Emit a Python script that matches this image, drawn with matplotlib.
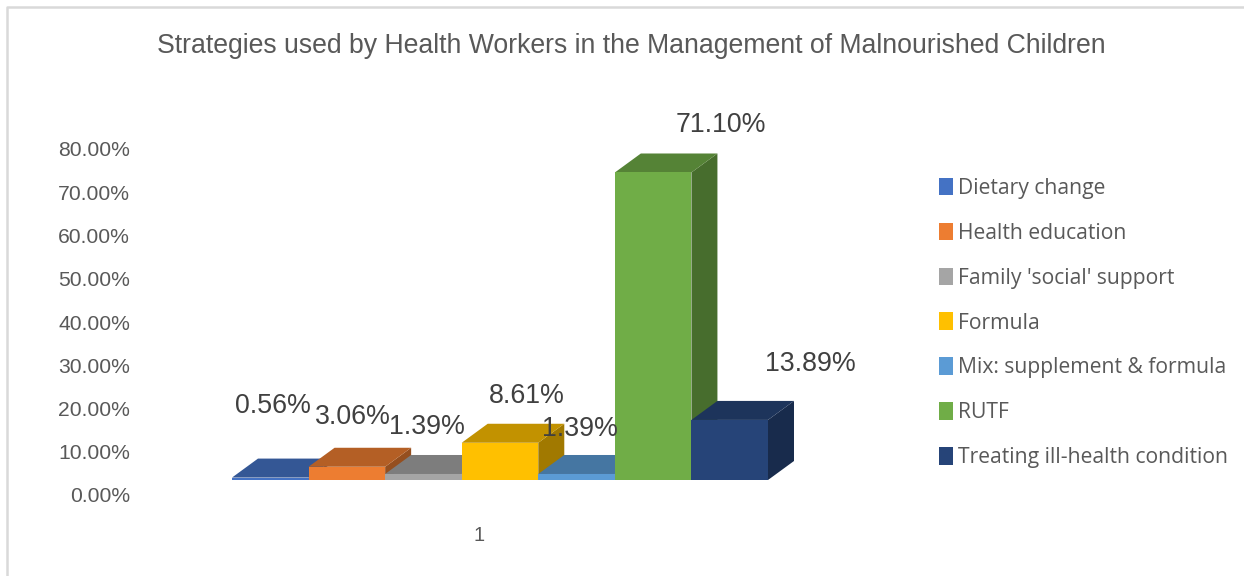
import matplotlib
matplotlib.use('Agg')
import matplotlib.pyplot as plt
import matplotlib.transforms as mtransforms
from matplotlib.colors import to_rgb
from matplotlib.lines import Line2D
from matplotlib.patches import Patch

# Data
strategies = ['Dietary change', 'Health education', "Family 'social' support", 'Formula',
              'Mix: supplement & formula', 'RUTF', 'Treating ill-health condition']
percentages = [0.56, 3.06, 1.39, 8.61, 1.39, 71.10, 13.89]
y_ticks = [0, 10, 20, 30, 40, 50, 60, 70, 80]
category_label = '1'
title = 'Strategies used by Health Workers in the Management of Malnourished Children'

colors = ['#4472C4', '#ED7D31', '#A5A5A5', '#FFC000', '#5B9BD5', '#70AD47', '#264478']

# Layout, in pixels of the 1244x576 picture
W, H = 1244, 576
PLOT_LEFT, PLOT_RIGHT = 232, 768
PLOT_BASE, PLOT_TOP = 480, 134
DEPTH_X, DEPTH_Y = 26, 19
label_dx = [3, 6, 4, 27, 3, 68, 81]
label_dy = [72, 50, 47, 47, 45, 47, 56]


def shade(color, factor):
    return tuple(c * factor for c in to_rgb(color))


plt.rcParams['font.family'] = ['Liberation Sans', 'DejaVu Sans']
fig = plt.figure(figsize=(W / 100, H / 100), dpi=100)
ax = fig.add_axes([PLOT_LEFT / W, 1 - PLOT_BASE / H,
                   (PLOT_RIGHT - PLOT_LEFT) / W, (PLOT_BASE - PLOT_TOP) / H])
ax.set_xlim(0, len(percentages))
ax.set_ylim(0, 80)
ax.patch.set_visible(False)
for spine in ax.spines.values():
    spine.set_visible(False)

# depth of the 3D look, in data units
dx = DEPTH_X * len(percentages) / (PLOT_RIGHT - PLOT_LEFT)
dy = DEPTH_Y * 80 / (PLOT_BASE - PLOT_TOP)

# bars go left to right so that each one covers the side of the one before
for i, (value, color) in enumerate(zip(percentages, colors)):
    ax.fill([i + 1, i + 1 + dx, i + 1 + dx, i + 1], [0, dy, value + dy, value],
            color=shade(color, 0.63), lw=0, zorder=2 + i, clip_on=False)
    ax.fill([i, i + dx, i + 1 + dx, i + 1], [value, value + dy, value + dy, value],
            color=shade(color, 0.76), lw=0, zorder=2 + i, clip_on=False)
    ax.bar(i, value, width=1, align='edge', color=color, zorder=2 + i)

for i, value in enumerate(percentages):
    ax.annotate(f'{value:.2f}%', xy=(i + 0.5, value),
                xytext=(label_dx[i] * 0.72, label_dy[i] * 0.72), textcoords='offset points',
                ha='center', va='center', fontsize=19.3, color='#404040', zorder=20,
                annotation_clip=False)

# y labels sit lower than the front edge of the floor
ax.set_yticks(y_ticks)
ax.set_yticklabels([f'{t:.2f}%' for t in y_ticks], fontsize=15.2, color='#595959')
ax.tick_params(axis='y', length=0, pad=(PLOT_LEFT - 130) * 0.72)
offset = mtransforms.ScaledTranslation(0, -15 / 100, fig.dpi_scale_trans)
for label in ax.get_yticklabels():
    label.set_transform(label.get_transform() + offset)

ax.set_xticks([3.23])
ax.set_xticklabels([category_label], fontsize=14.5, color='#595959')
ax.tick_params(axis='x', length=0, pad=46 * 0.72)

fig.text(631 / W, 1 - 46 / H, title, ha='center', va='center', fontsize=19.2, color='#595959')

handles = [Patch(color=c, lw=0) for c in colors]
ax.legend(handles, strategies, loc='center left',
          bbox_to_anchor=(939 / W, 1 - 323 / H), bbox_transform=fig.transFigure,
          frameon=False, borderpad=0, borderaxespad=0,
          prop={'family': 'Open Sans', 'size': 15.2}, labelcolor='#595959',
          labelspacing=1.13, handlelength=0.65, handleheight=0.9, handletextpad=0.24)

# chart frame, only the left and top edges fall inside the picture
fig.add_artist(Line2D([7 / W, 7 / W, 1], [0, 1 - 7 / H, 1 - 7 / H], color='#D9D9D9', lw=1.8))

fig.savefig('out.png', dpi=100)
